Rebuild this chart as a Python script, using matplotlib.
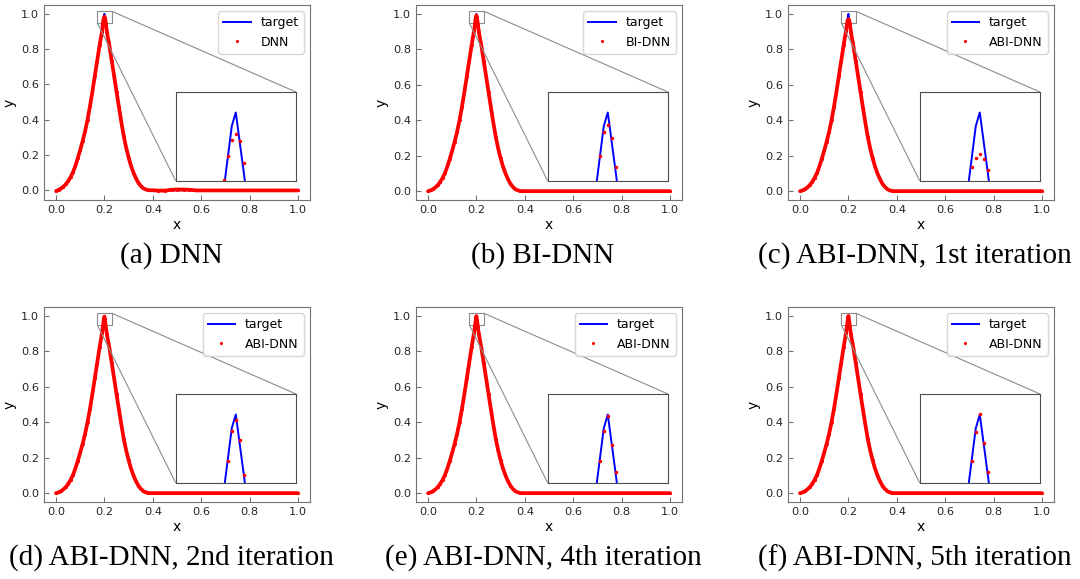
import matplotlib
matplotlib.use("Agg")
import matplotlib.pyplot as plt
from mpl_toolkits.axes_grid1.inset_locator import mark_inset

# sample positions
x_left = [0.00, 0.01, 0.02, 0.03, 0.04, 0.05, 0.06, 0.07, 0.08, 0.09,
          0.10, 0.11, 0.12, 0.13, 0.14, 0.15, 0.16, 0.17, 0.18, 0.19]
x_peak = [0.194, 0.196, 0.198, 0.200, 0.202, 0.204, 0.206]
x_right = [0.21, 0.22, 0.23, 0.24, 0.25, 0.26, 0.27, 0.28, 0.29, 0.30,
           0.31, 0.32, 0.33, 0.34, 0.35, 0.36, 0.37, 0.38, 0.39, 0.40]
x_tail = [0.42, 0.45, 0.48, 0.50, 0.53, 0.55, 0.58, 0.60, 0.70, 0.80, 0.90, 1.00]

# target function
target_left = [0.0, 0.004, 0.011, 0.021, 0.034, 0.052, 0.075, 0.103, 0.14, 0.183,
               0.23, 0.28, 0.335, 0.40, 0.475, 0.558, 0.647, 0.735, 0.823, 0.905]
target_peak = [0.944, 0.967, 0.990, 1.000, 0.978, 0.956, 0.933]
target_right = [0.897, 0.823, 0.735, 0.647, 0.558, 0.47, 0.385, 0.305, 0.24, 0.185,
                0.138, 0.10, 0.068, 0.043, 0.025, 0.012, 0.005, 0.001, 0.0, 0.0]
target_tail = [0.0] * 12

# network outputs (same as target away from the peak, except DNN)
pred_left_dnn = [-0.005, 0.002, 0.010, 0.020, 0.034, 0.052, 0.075, 0.103, 0.14, 0.183,
                 0.23, 0.28, 0.335, 0.40, 0.475, 0.558, 0.647, 0.735, 0.823, 0.900]
pred_tail_dnn = [-0.002, -0.002, 0.003, 0.004, 0.004, 0.003, -0.001, -0.001, -0.001, -0.001, -0.001, -0.001]

peak_dnn = [0.951, 0.968, 0.980, 0.984, 0.979, 0.963, 0.945]
peak_bi = [0.945, 0.968, 0.986, 0.991, 0.981, 0.960, 0.940]
peak_it1 = [0.944, 0.960, 0.967, 0.970, 0.966, 0.958, 0.945]
peak_it2 = [0.944, 0.966, 0.988, 0.996, 0.981, 0.956, 0.933]
peak_it4 = [0.944, 0.966, 0.988, 0.999, 0.978, 0.958, 0.935]
peak_it5 = [0.944, 0.966, 0.987, 1.000, 0.979, 0.958, 0.935]

labels = ["DNN", "BI-DNN", "ABI-DNN", "ABI-DNN", "ABI-DNN", "ABI-DNN"]
captions = ["(a) DNN", "(b) BI-DNN", "(c) ABI-DNN, 1st iteration",
            "(d) ABI-DNN, 2nd iteration", "(e) ABI-DNN, 4th iteration",
            "(f) ABI-DNN, 5th iteration"]
peaks = [peak_dnn, peak_bi, peak_it1, peak_it2, peak_it4, peak_it5]

x_all = x_left + x_peak + x_right + x_tail
y_target = target_left + target_peak + target_right + target_tail

plt.rcParams["font.family"] = ["DejaVu Sans"]
plt.rcParams["axes.edgecolor"] = "0.45"
plt.rcParams["xtick.color"] = "0.45"
plt.rcParams["ytick.color"] = "0.45"
plt.rcParams["xtick.labelcolor"] = "0.15"
plt.rcParams["ytick.labelcolor"] = "0.15"

fig = plt.figure(figsize=(10.8, 5.79), dpi=100)
lefts = [44, 416, 788]
tops = [5, 307]
W, H = 266, 195

for i in range(6):
    row, col = divmod(i, 3)
    l = lefts[col]
    t = tops[row]
    ax = fig.add_axes([l / 1080, 1 - (t + H) / 579, W / 1080, H / 579])

    if i == 0:
        y_pred = pred_left_dnn + peaks[i] + target_right + pred_tail_dnn
    else:
        y_pred = target_left + peaks[i] + target_right + target_tail

    ax.plot(x_all, y_target, color="blue", lw=1.4, label="target", zorder=2)
    ax.plot(x_all, y_pred, color="red", lw=2.7, solid_capstyle="round", zorder=3)
    ax.plot(x_all, y_pred, ".", color="red", ms=2.5, label=labels[i], zorder=3)

    ax.set_xticks([0.0, 0.2, 0.4, 0.6, 0.8, 1.0])
    ax.set_yticks([0.0, 0.2, 0.4, 0.6, 0.8, 1.0])
    ax.tick_params(direction="in", labelsize=8.2, length=3.5)
    ax.set_xlabel("x", fontsize=10, labelpad=2)
    ax.set_ylabel("y", fontsize=10, labelpad=3)
    ax.legend(loc="upper right", fontsize=9, handlelength=2.2)

    axins = ax.inset_axes([0.495, 0.098, 0.452, 0.456])
    axins.plot(x_all, y_target, color="blue", lw=1.4)
    axins.plot(x_all, y_pred, ".", color="red", ms=3)
    axins.set_xlim(0.17, 0.23)
    axins.set_ylim(0.95, 1.015)
    axins.set_xticks([])
    axins.set_yticks([])
    for s in axins.spines.values():
        s.set_edgecolor("0.3")
    mark_inset(ax, axins, loc1=1, loc2=3, fc="none", ec="0.55", lw=0.8)

    fig.text((l + W / 2 - 6) / 1080, 1 - (256 + row * 302) / 579, captions[i],
             ha="center", va="center", fontsize=21, family="Liberation Serif")

fig.savefig("out.png", dpi=100)
